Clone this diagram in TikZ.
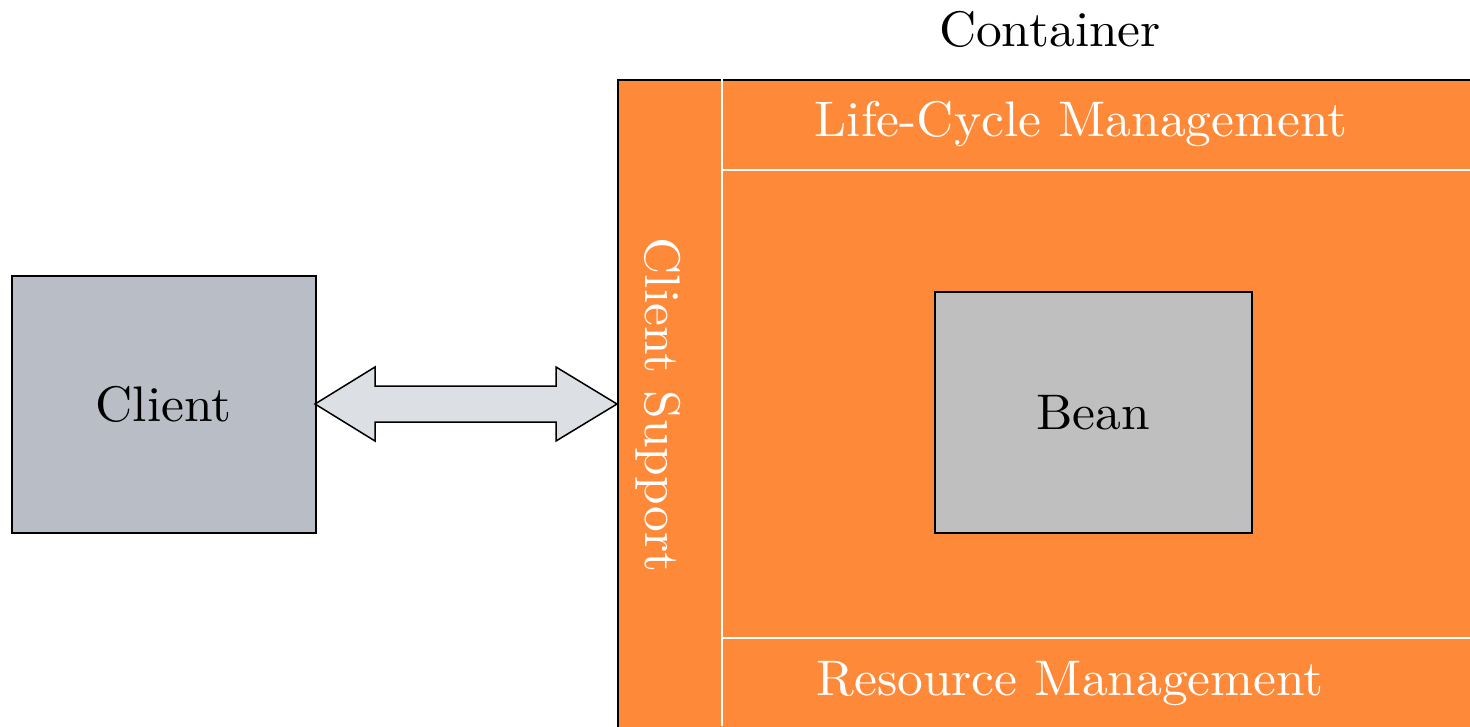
\documentclass[tikz,border=0pt]{standalone}
\usepackage{fontspec}
\setmainfont{lmroman10-regular}[Extension=.otf,FakeStretch=1.03]
\usetikzlibrary{calc}
\definecolor{contorange}{RGB}{254,137,56}
\definecolor{clientgray}{RGB}{185,189,198}
\definecolor{beangray}{RGB}{191,191,191}
\definecolor{arrowgray}{RGB}{220,223,227}
\begin{document}
\begin{tikzpicture}[x=1pt,y=-1pt,
  lbl/.style={font=\fontsize{50}{60}\selectfont},
  wlbl/.style={lbl,text=white},
  box/.style={draw=black,line width=1.5pt,inner sep=0pt},
  sep/.style={draw=white,line width=1.8pt}]
\useasboundingbox (0,0) rectangle (1470,726);
\clip (0,0) rectangle (1470,726);
% container
\node[box,fill=contorange,anchor=north west,minimum width=880,minimum height=680] (cont) at (617,79) {};
\coordinate (vtop) at (722,79);
\coordinate (vbot) at (722,726);
\draw[sep] (vtop) -- (vbot);
\coordinate (h1l) at (722,170);
\coordinate (h1r) at (1470,170);
\coordinate (h2l) at (722,638);
\coordinate (h2r) at (1470,638);
\draw[sep] (h1l) -- (h1r);
\draw[sep] (h2l) -- (h2r);
\node[lbl,anchor=base] (contlbl) at (1050,46) {Container};
\node[wlbl,anchor=base] (lcm) at (1081,136) {Life-Cycle Management};
\node[wlbl,anchor=base] (rm) at (1070,695) {Resource Management};
\node[wlbl,rotate=-90,anchor=base] (cs) at (645,405) {Client Support};
% client
\node[box,fill=clientgray,anchor=north west,minimum width=304,minimum height=257] (client) at (11,275) {};
\node[lbl] (clientlbl) at (client.center) {Client};
% bean
\node[box,fill=beangray,anchor=north west,minimum width=317,minimum height=241] (bean) at (934,291) {};
\node[lbl] (beanlbl) at (bean.center) {Bean};
% double arrow
\coordinate (tipL) at (315,404);
\coordinate (tipR) at (617,404);
\draw[fill=arrowgray,line width=1.5pt,line join=miter]
  (tipL) -- ($(tipL)+(60,-37)$) -- ($(tipL)+(60,-18)$) -- ($(tipR)+(-61,-18)$)
  -- ($(tipR)+(-61,-37)$) -- (tipR) -- ($(tipR)+(-61,37)$) -- ($(tipR)+(-61,18)$)
  -- ($(tipL)+(60,18)$) -- ($(tipL)+(60,37)$) -- cycle;
\end{tikzpicture}
\end{document}
